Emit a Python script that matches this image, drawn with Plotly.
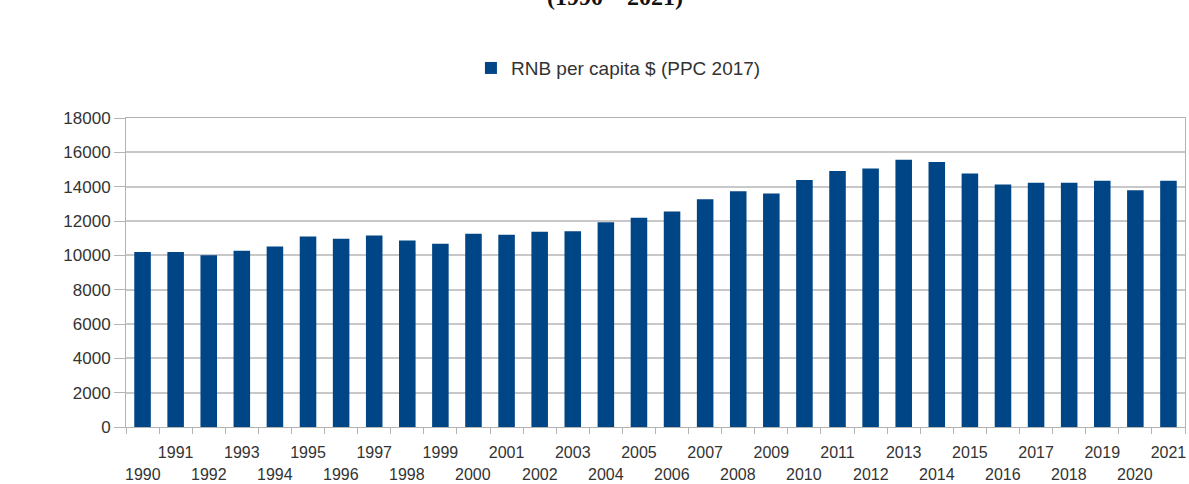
import plotly.graph_objects as go

years = list(range(1990, 2022))
gni_per_capita = [
    10200, 10190, 10000, 10270, 10520, 11090, 10970, 11150, 10870, 10680,
    11260, 11200, 11380, 11400, 11930, 12190, 12560, 13260, 13740, 13600,
    14390, 14910, 15060, 15570, 15430, 14760, 14120, 14230, 14230, 14350,
    13790, 14350,
]
y_ticks = list(range(0, 18001, 2000))

categories = [str(y) for y in years]
# odd years sit on the tick row, even years go on a second row below
upper_labels = [str(y) if y % 2 else "" for y in years]

fig = go.Figure()
fig.add_trace(
    go.Bar(
        x=categories,
        y=gni_per_capita,
        name="RNB per capita $ (PPC 2017)",
        marker=dict(color="#004586", line=dict(width=0)),
        width=0.5,
    )
)

annotations = [
    dict(
        text="<b>(1990 – 2021)</b>",
        xref="paper",
        yref="paper",
        x=0.462,
        y=1.392,
        xanchor="center",
        yanchor="middle",
        showarrow=False,
        font=dict(family="Liberation Serif, Times New Roman, serif", size=24, color="#111111"),
    )
]
for i, yr in enumerate(categories):
    if years[i] % 2 == 0:
        annotations.append(
            dict(
                text=yr,
                x=i,  # category position on the x axis
                xref="x",
                y=-0.155,
                yref="paper",
                xanchor="center",
                yanchor="middle",
                showarrow=False,
                font=dict(size=16, color="#333333"),
            )
        )

fig.update_layout(
    width=1189,
    height=484,
    margin=dict(l=126, r=4, t=118, b=57),
    paper_bgcolor="white",
    plot_bgcolor="white",
    font=dict(family="Liberation Sans, Arial, sans-serif", size=16, color="#333333"),
    showlegend=True,
    legend=dict(
        orientation="h",
        x=0.465,
        xanchor="center",
        y=1.1,
        yanchor="bottom",
        font=dict(size=19, color="#333333"),
        itemwidth=30,
    ),
    annotations=annotations,
)

fig.update_xaxes(
    type="category",
    range=[-0.5, len(categories) - 0.5],
    tickmode="array",
    tickvals=categories,
    ticktext=upper_labels,
    tickson="boundaries",
    ticks="outside",
    ticklen=6,
    tickcolor="#b3b3b3",
    showline=True,
    linecolor="#b3b3b3",
    linewidth=1,
    mirror=True,
    showgrid=False,
    tickangle=0,
    ticklabelstandoff=11,
    tickfont=dict(size=16, color="#333333"),
)
fig.update_yaxes(
    range=[0, 18000],
    tickmode="array",
    tickvals=y_ticks,
    ticktext=[str(v) for v in y_ticks],
    ticks="outside",
    ticklen=11,
    tickcolor="#b3b3b3",
    showline=True,
    linecolor="#b3b3b3",
    linewidth=1,
    mirror=True,
    showgrid=True,
    gridcolor="#c8c8c8",
    gridwidth=1.5,
    zeroline=False,
    tickfont=dict(size=17, color="#333333"),
)

# drop the default page margin so the figure fills the window exactly
fig.write_html(
    "out.html",
    config={"displayModeBar": False},
    post_script="document.body.style.margin='0';",
)
